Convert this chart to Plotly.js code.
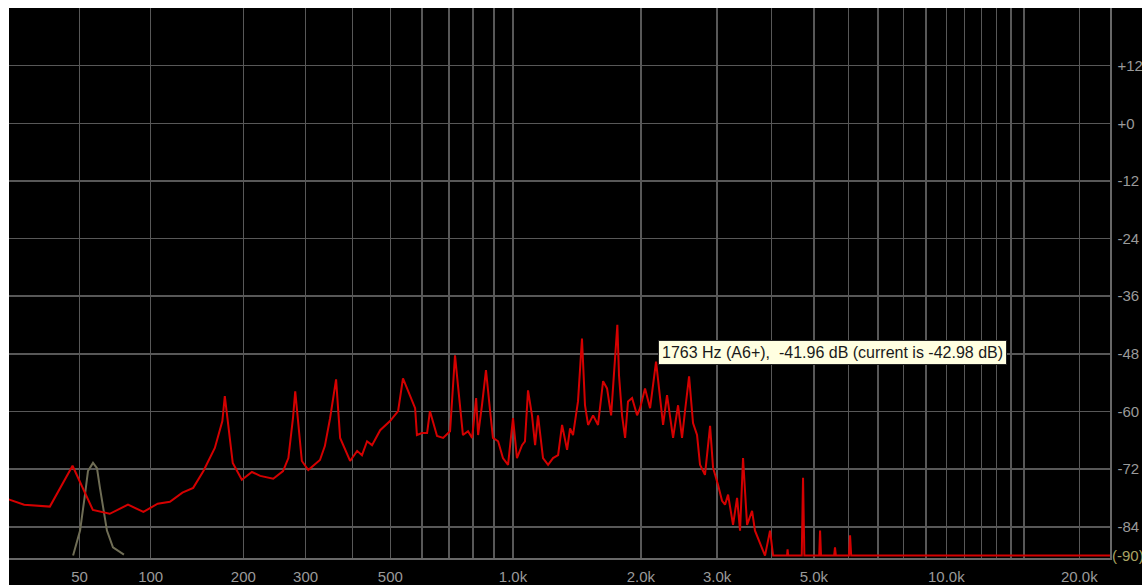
<!DOCTYPE html>
<html>
<head>
<meta charset="utf-8">
<script src="https://cdn.plot.ly/plotly-3.0.1.min.js"></script>
<style>
  html, body { margin: 0; padding: 0; background: #ffffff; overflow: hidden; }
  #chart { position: absolute; left: 9px; top: 8px; width: 1133px; height: 577px; }
</style>
</head>
<body>
<div id="chart"></div>
<script>
// Spectrum analyser: peak-hold spectrum (red) and a low-frequency band trace (olive).
// Frequencies in Hz, levels in dB.

const spectrumHz = [
  15, 22, 34, 46, 58, 69, 82, 94, 106, 117, 129, 140, 151, 164, 173, 176, 186, 198, 212, 224,
  244, 260, 269, 277, 281, 293, 305, 328, 338, 349, 362, 371, 394, 411, 423, 436, 449, 471, 499, 523,
  538, 560, 577, 583, 600, 618, 628, 654, 677, 704, 724, 736, 757, 779, 797, 815, 824, 842, 861, 881,
  895, 921, 946, 973, 1000, 1022, 1051, 1068, 1086, 1110, 1129, 1147, 1179, 1212, 1245, 1280, 1308, 1344, 1366, 1388,
  1426, 1457, 1481, 1506, 1547, 1589, 1633, 1668, 1705, 1763, 1779, 1808, 1838, 1867, 1908, 1960, 1991, 2045, 2101, 2169,
  2216, 2252, 2300, 2375, 2439, 2491, 2531, 2586, 2641, 2698, 2741, 2814, 2891, 2937, 3016, 3080, 3129, 3180, 3265, 3335,
  3388, 3442, 3516, 3610, 3666, 3726, 3865, 3969, 4033, 4341, 4353, 4366, 4690, 4722, 4755, 5140, 5164, 5190, 5560, 5585,
  5610, 6010, 6044, 6080, 24000
];
const spectrumDb = [
  -78.2, -79.4, -79.8, -71.3, -80.5, -81.3, -79.4, -80.9, -79.2, -78.8, -76.9, -75.9, -72.4, -67.6, -62.0, -56.8, -70.7, -74.2, -72.6, -73.4,
  -74.0, -72.4, -69.7, -61.4, -55.8, -70.3, -72.2, -70.1, -67.2, -61.4, -53.3, -65.5, -70.3, -68.2, -69.1, -66.2, -67.0, -63.9, -62.0, -59.9,
  -53.1, -56.6, -59.3, -64.9, -64.5, -64.5, -59.9, -65.1, -65.5, -64.1, -48.3, -54.5, -64.9, -64.1, -65.5, -57.2, -64.9, -58.7, -51.4, -59.9,
  -65.5, -66.2, -69.7, -71.1, -61.4, -69.7, -67.0, -66.2, -55.6, -60.8, -67.0, -60.8, -69.7, -71.1, -69.7, -69.1, -62.8, -68.0, -63.5, -64.9,
  -57.9, -44.8, -58.7, -62.8, -60.8, -62.8, -53.7, -55.2, -60.8, -41.96, -52.5, -60.8, -65.5, -57.9, -57.2, -60.8, -59.3, -55.2, -59.3, -49.6,
  -57.9, -62.8, -56.6, -65.5, -58.7, -65.5, -59.9, -52.7, -62.4, -64.9, -71.1, -73.2, -63.0, -71.7, -75.3, -78.6, -79.4, -77.3, -83.6, -78.0,
  -84.8, -69.7, -83.6, -80.7, -84.8, -86.3, -90, -84.8, -90, -90, -88.7, -90, -90, -73.8, -90, -90, -84.8, -90, -90, -88.3,
  -90, -90, -85.8, -90, -90
];

const bandHz = [46.3, 50.3, 53.2, 55.0, 58.1, 60.6, 62.5, 64.5, 67.1, 71.2, 74.7, 79.0];
const bandDb = [-90, -84.8, -77.3, -72.4, -70.7, -71.8, -75.9, -80.0, -84.8, -88.3, -89.0, -89.8];

// Readout for the held peak
const holdPeakHz = 1763;
const holdPeakNote = 'A6+';
const holdPeakDb = -41.96;
const currentDb = -42.98;

// Frequency grid and labels
const gridHz = [50, 100, 200, 300, 400, 500, 600, 700, 800, 900, 1000, 2000, 3000, 4000, 5000,
                6000, 7000, 8000, 9000, 10000, 11000, 12000, 13000, 14000, 15000, 20000];
const gridHzText = ['50', '100', '200', '300', '', '500', '', '', '', '', '1.0k', '2.0k', '3.0k', '', '5.0k',
                    '', '', '', '', '10.0k', '', '', '', '', '', '20.0k'];
const levelTicks = [-84, -72, -60, -48, -36, -24, -12, 0, 12];
const levelText = ['-84', '-72', '-60', '-48', '-36', '-24', '-12', '+0', '+12'];
const floorText = '(-90)';

// The frequency axis is a log scale of (f + offset): compressed at the low end.
const OFFSET = 62;
const warp = arr => arr.map(f => f + OFFSET);

const traces = [
  {
    x: warp(bandHz), y: bandDb, type: 'scatter', mode: 'lines',
    line: { color: '#6f6d55', width: 2 }, hoverinfo: 'skip'
  },
  {
    x: warp(spectrumHz), y: spectrumDb, type: 'scatter', mode: 'lines',
    line: { color: '#d40000', width: 2 }, hoverinfo: 'skip'
  }
];

const tickFont = { family: 'Liberation Sans, Arial, sans-serif', size: 15, color: '#9a9a9a' };

const layout = {
  width: 1133, height: 577,
  margin: { l: 0, r: 32, t: 0, b: 27 },
  paper_bgcolor: '#000000', plot_bgcolor: '#000000',
  showlegend: false,
  xaxis: {
    type: 'log',
    range: [1.8902, 4.3716],
    tickmode: 'array', tickvals: warp(gridHz), ticktext: gridHzText,
    showgrid: true, gridcolor: '#585858', gridwidth: 1.5,
    showline: true, linecolor: '#686868', linewidth: 1.5,
    ticks: 'outside', ticklen: 4, tickcolor: 'rgba(0,0,0,0)',
    tickfont: tickFont, zeroline: false, layer: 'below traces', fixedrange: true
  },
  yaxis: {
    side: 'right',
    range: [-90.5, 24],
    tickmode: 'array', tickvals: levelTicks, ticktext: levelText,
    showgrid: true, gridcolor: '#585858', gridwidth: 1.5,
    showline: true, linecolor: '#686868', linewidth: 1.5,
    ticks: 'outside', ticklen: 3, tickcolor: 'rgba(0,0,0,0)',
    tickfont: tickFont, zeroline: false, layer: 'below traces', fixedrange: true
  },
  annotations: [
    {
      xref: 'paper', yref: 'y', x: 1, y: -90, xanchor: 'left', yanchor: 'middle', xshift: 0,
      text: floorText, showarrow: false,
      font: { family: 'Liberation Sans, Arial, sans-serif', size: 15, color: '#aaa462' }
    },
    {
      xref: 'paper', yref: 'paper', x: 0.5895, y: 0.3964, xanchor: 'left', yanchor: 'top',
      text: `${holdPeakHz} Hz (${holdPeakNote}),\u00a0 ${holdPeakDb.toFixed(2)} dB (current is ${currentDb.toFixed(2)} dB)`,
      showarrow: false, align: 'left',
      bgcolor: '#ffffe1', bordercolor: '#222222', borderwidth: 1, borderpad: 3,
      font: { family: 'Liberation Sans, Arial, sans-serif', size: 16, color: '#1a1a1a' }
    }
  ]
};

Plotly.newPlot('chart', traces, layout, { staticPlot: true, displayModeBar: false });
</script>
</body>
</html>
